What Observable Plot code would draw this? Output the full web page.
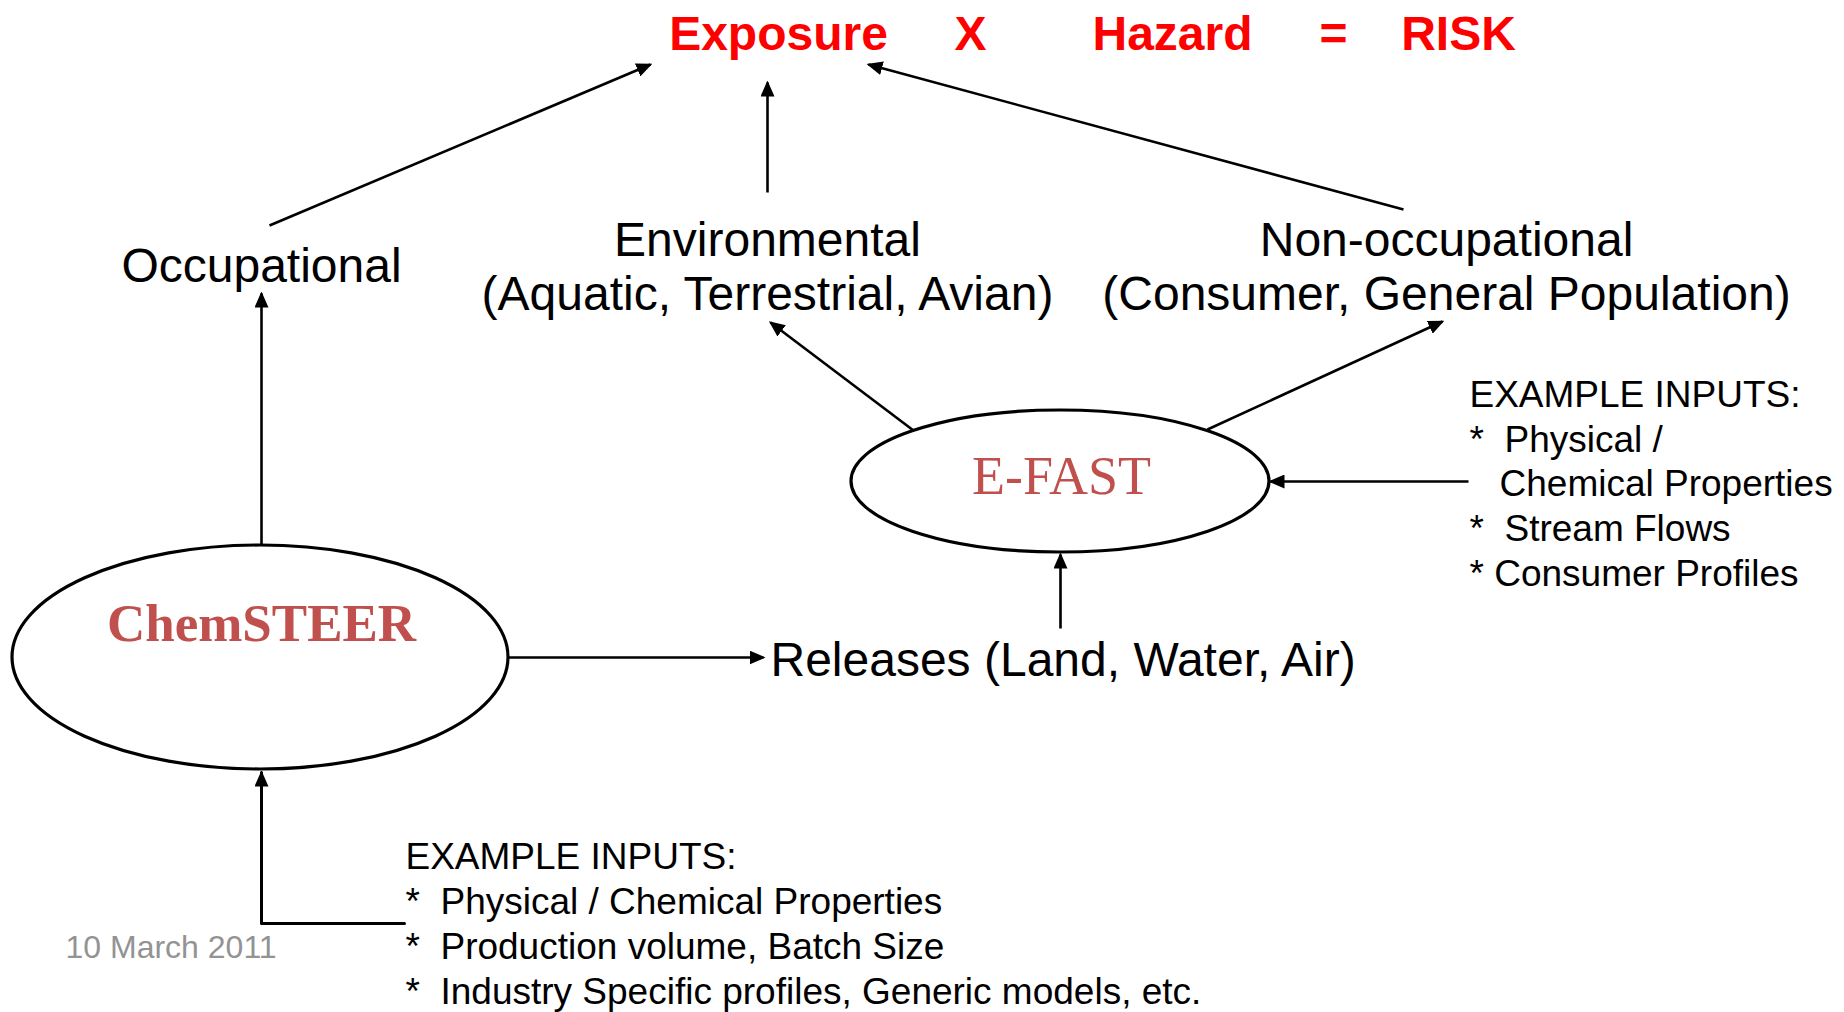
<!DOCTYPE html>
<html>
<head>
<meta charset="utf-8">
<script src="https://cdn.jsdelivr.net/npm/d3@7"></script>
<script src="https://cdn.jsdelivr.net/npm/@observablehq/plot@0.6"></script>
<style>
  html, body { margin: 0; padding: 0; background: #fff; }
  svg { display: block; }
</style>
</head>
<body>
<div id="chart"></div>
<script>
// ---- diagram content (coordinates in the 1844x1012 diagram space) ----
const titleWords = ["Exposure", "X", "Hazard", "=", "RISK"];
const titleX = [778, 970, 1172, 1333, 1458];
const titleBaseline = 49;

const centeredLabels = [
  {text: "Occupational", x: 261, y: 281},
  {text: "Environmental", x: 767, y: 255},
  {text: "(Aquatic, Terrestrial, Avian)", x: 767, y: 309},
  {text: "Non-occupational", x: 1446, y: 255},
  {text: "(Consumer, General Population)", x: 1446, y: 309}
];

const releasesLabel = [{text: "Releases (Land, Water, Air)", x: 770, y: 675}];

const modelNames = ["ChemSTEER", "E-FAST"];
const modelX = [261, 1061];
const modelY = [640, 493];

const rightInputs = [
  {text: "EXAMPLE INPUTS:", x: 1469, y: 406},
  {text: "*\u00a0\u00a0Physical /", x: 1469, y: 451},
  {text: "Chemical Properties", x: 1499, y: 495},
  {text: "*\u00a0\u00a0Stream Flows", x: 1469, y: 540},
  {text: "*\u00a0Consumer Profiles", x: 1469, y: 585}
];

const bottomInputs = [
  {text: "EXAMPLE INPUTS:", x: 405, y: 868},
  {text: "*\u00a0\u00a0Physical / Chemical Properties", x: 405, y: 913},
  {text: "*\u00a0\u00a0Production volume, Batch Size", x: 405, y: 958},
  {text: "*\u00a0\u00a0Industry Specific profiles, Generic models, etc.", x: 405, y: 1003}
];

const dateLabel = [{text: "10 March 2011", x: 65, y: 957}];

const arrows = [
  {x1: 269, y1: 225, x2: 650, y2: 64},
  {x1: 767, y1: 192, x2: 767, y2: 82},
  {x1: 1403, y1: 209, x2: 868, y2: 64},
  {x1: 261, y1: 545, x2: 261, y2: 293},
  {x1: 913, y1: 430, x2: 770, y2: 322},
  {x1: 1207, y1: 429, x2: 1442, y2: 321},
  {x1: 1468, y1: 481, x2: 1270, y2: 481},
  {x1: 508, y1: 657, x2: 763, y2: 657},
  {x1: 1060, y1: 628, x2: 1060, y2: 554}
];

const connector = [
  {x: 404, y: 923},
  {x: 261, y: 923},
  {x: 261, y: 772}
];

const ellipses = [
  {cx: 260, cy: 657, rx: 248, ry: 112},
  {cx: 1060, cy: 481, rx: 209, ry: 71}
];

// ---- rendering ----
const W = 1844, H = 1012;
const SANS = "'Liberation Sans', Arial, sans-serif";
const SERIF = "'Liberation Serif', 'Times New Roman', serif";
const titleData = titleWords.map((t, i) => ({text: t, x: titleX[i], y: titleBaseline}));
const modelData = modelNames.map((t, i) => ({text: t, x: modelX[i], y: modelY[i]}));

const ellipseMark = (index, scales) => {
  const sx = typeof scales.x === "function" ? scales.x : (v) => v;
  const sy = typeof scales.y === "function" ? scales.y : (v) => v;
  const g = d3.create("svg:g").attr("aria-label", "ellipse");
  g.selectAll("ellipse").data(ellipses).join("ellipse")
    .attr("cx", d => sx(d.cx))
    .attr("cy", d => sy(d.cy))
    .attr("rx", d => Math.abs(sx(d.cx + d.rx) - sx(d.cx)))
    .attr("ry", d => Math.abs(sy(d.cy + d.ry) - sy(d.cy)))
    .attr("fill", "white")
    .attr("stroke", "black")
    .attr("stroke-width", 3.2);
  return g.node();
};

const svg = Plot.plot({
  width: W,
  height: H,
  margin: 0,
  x: {domain: [0, W], range: [0, W], axis: null},
  y: {domain: [0, H], range: [0, H], axis: null},
  style: {background: "white", fontFamily: SANS, overflow: "visible"},
  marks: [
    Plot.link(arrows, {x1: "x1", y1: "y1", x2: "x2", y2: "y2", stroke: "black", strokeWidth: 2.6}),
    Plot.line(connector, {x: "x", y: "y", stroke: "black", strokeWidth: 3}),
    ellipseMark,
    Plot.text(titleData, {x: "x", y: "y", text: "text", lineAnchor: "bottom", textAnchor: "middle",
      fontSize: 48, fontWeight: "bold", fill: "#ff0000", fontFamily: SANS}),
    Plot.text(centeredLabels, {x: "x", y: "y", text: "text", lineAnchor: "bottom", textAnchor: "middle",
      fontSize: 48, fill: "black", fontFamily: SANS}),
    Plot.text(releasesLabel, {x: "x", y: "y", text: "text", lineAnchor: "bottom", textAnchor: "start",
      fontSize: 48, fill: "black", fontFamily: SANS}),
    Plot.text(modelData.slice(0, 1), {x: "x", y: "y", text: "text", lineAnchor: "bottom", textAnchor: "middle",
      fontSize: 53, fontWeight: "bold", fill: "#c0504d", fontFamily: SERIF}),
    Plot.text(modelData.slice(1), {x: "x", y: "y", text: "text", lineAnchor: "bottom", textAnchor: "middle",
      fontSize: 54, fill: "#c0504d", fontFamily: SERIF}),
    Plot.text(rightInputs, {x: "x", y: "y", text: "text", lineAnchor: "bottom", textAnchor: "start",
      fontSize: 37, fill: "black", fontFamily: SANS}),
    Plot.text(bottomInputs, {x: "x", y: "y", text: "text", lineAnchor: "bottom", textAnchor: "start",
      fontSize: 37, fill: "black", fontFamily: SANS}),
    Plot.text(dateLabel, {x: "x", y: "y", text: "text", lineAnchor: "bottom", textAnchor: "start",
      fontSize: 32, fill: "#939393", fontFamily: SANS})
  ]
});

// filled triangular arrowheads on the links and the connector
const root = d3.select(svg);
const defs = root.insert("defs", ":first-child");
defs.append("marker")
  .attr("id", "tri-head")
  .attr("viewBox", "0 0 16 14")
  .attr("refX", 14)
  .attr("refY", 7)
  .attr("markerUnits", "userSpaceOnUse")
  .attr("markerWidth", 16)
  .attr("markerHeight", 14)
  .attr("orient", "auto")
  .append("path")
  .attr("d", "M0,0L16,7L0,14Z")
  .attr("fill", "black");
root.selectAll("g[aria-label='link'] path, g[aria-label='line'] path").attr("marker-end", "url(#tri-head)");

document.getElementById("chart").appendChild(svg);
</script>
</body>
</html>
